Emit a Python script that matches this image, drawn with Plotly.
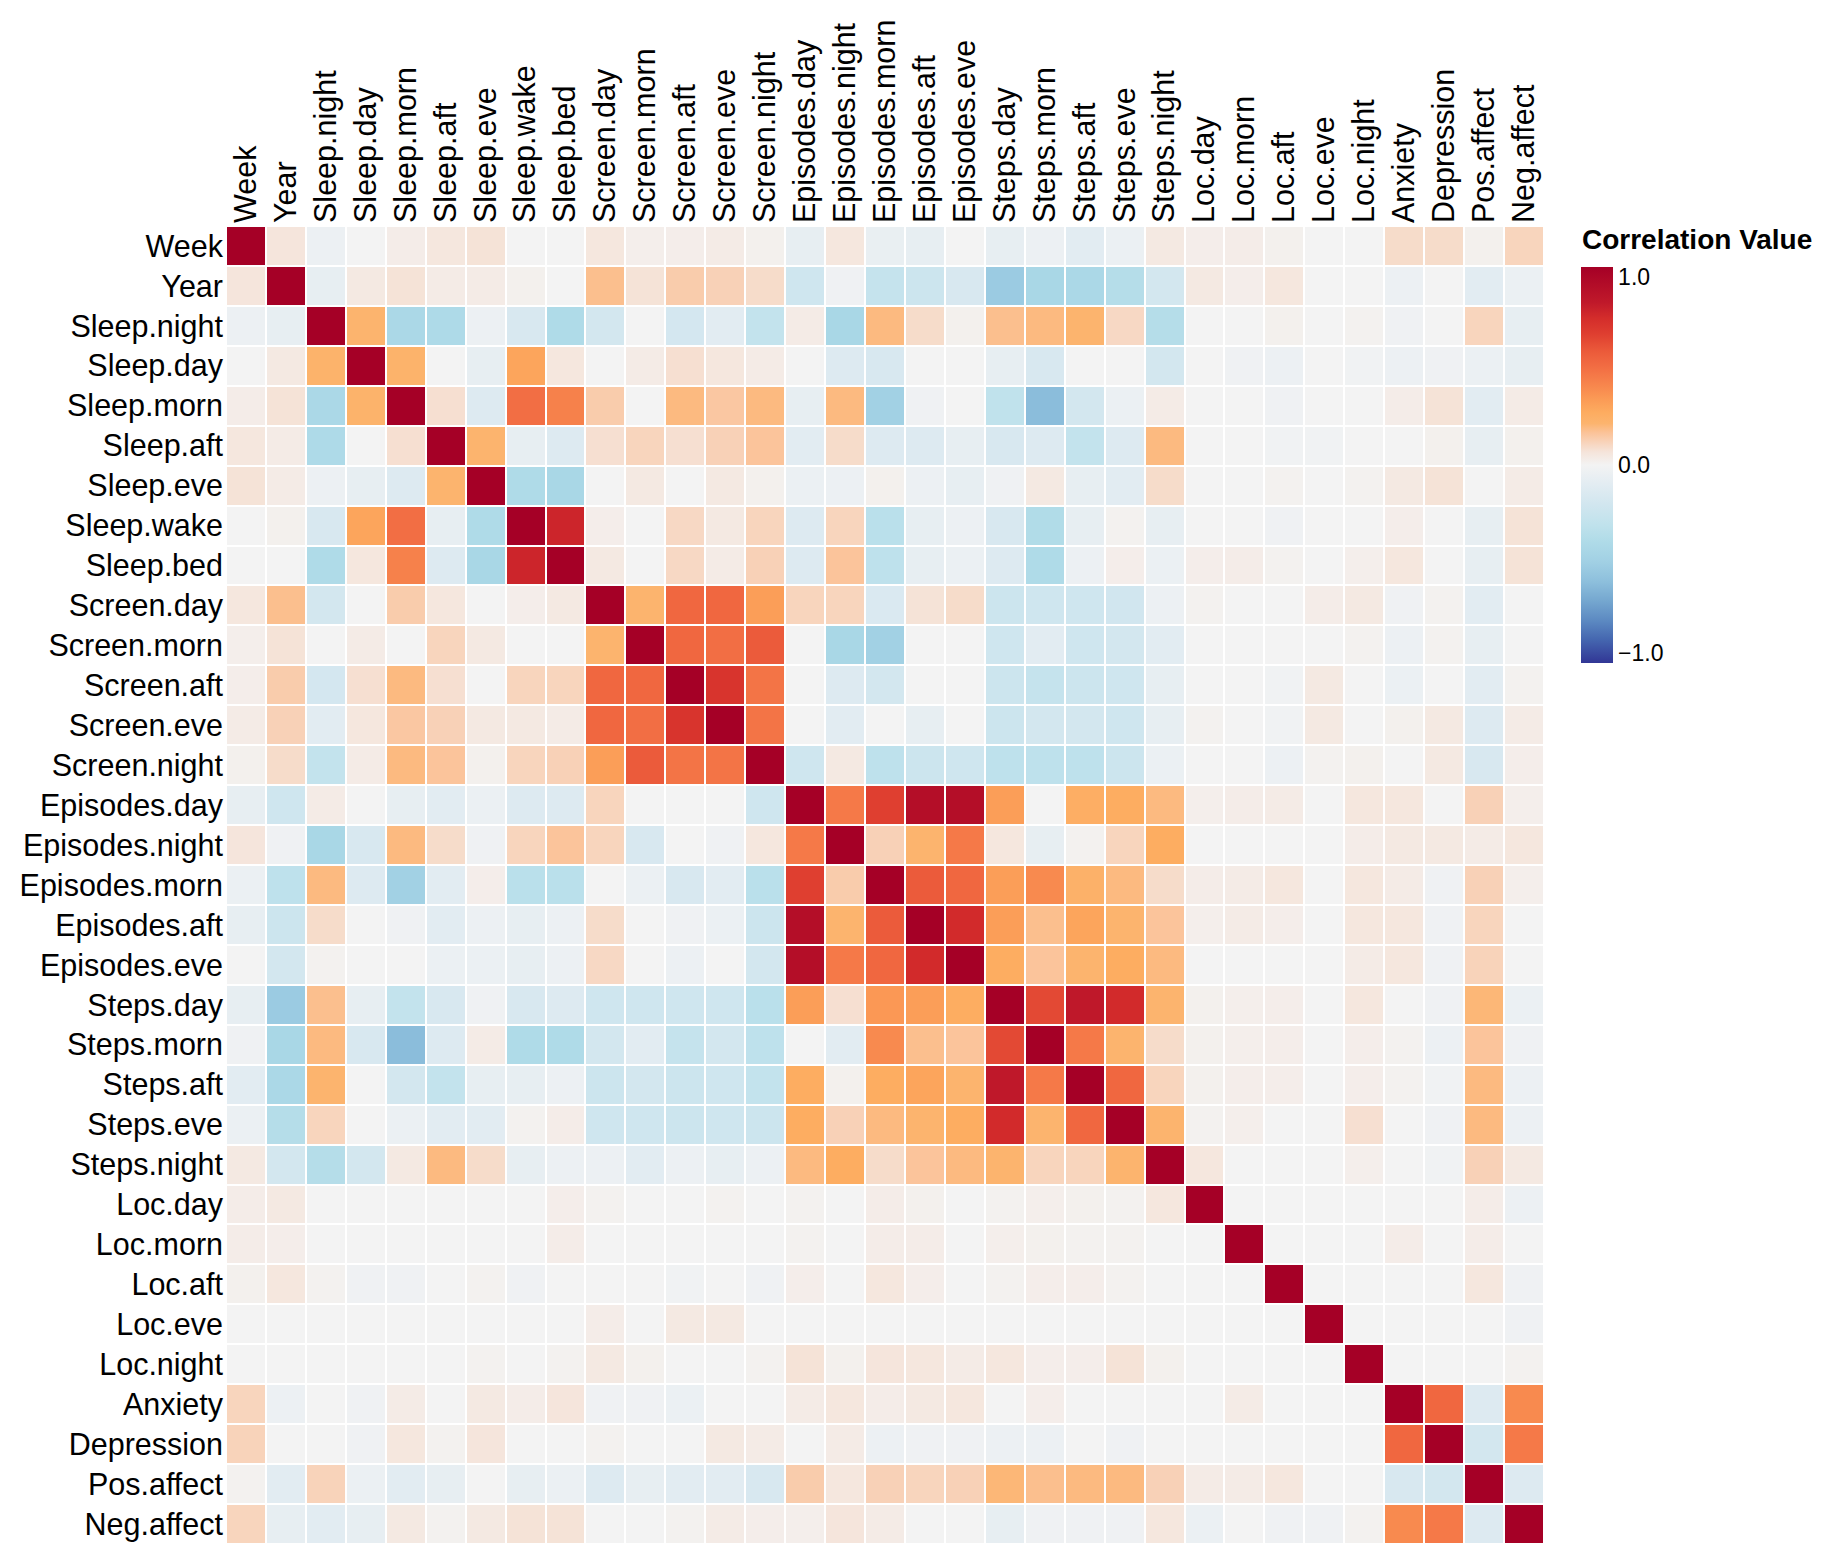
import plotly.graph_objects as go

labels = ["Week", "Year", "Sleep.night", "Sleep.day", "Sleep.morn", "Sleep.aft", "Sleep.eve",
          "Sleep.wake", "Sleep.bed", "Screen.day", "Screen.morn", "Screen.aft", "Screen.eve",
          "Screen.night", "Episodes.day", "Episodes.night", "Episodes.morn", "Episodes.aft",
          "Episodes.eve", "Steps.day", "Steps.morn", "Steps.aft", "Steps.eve", "Steps.night",
          "Loc.day", "Loc.morn", "Loc.aft", "Loc.eve", "Loc.night", "Anxiety", "Depression",
          "Pos.affect", "Neg.affect"]

r_week = [1, .06, -.04, 0, .03, .055, .07, 0, 0, .055, .02, .025, .035, .015, -.07, .055, -.06, -.07, 0, -.07, -.04, -.1, -.05, .045, .025, .03, .015, 0, 0, .09, .09, .015, .11]
r_year = [.06, 1, -.07, .045, .07, .035, .035, .015, 0, .175, .07, .135, .12, .09, -.21, -.025, -.27, -.23, -.16, -.52, -.43, -.42, -.36, -.19, .045, .025, .055, 0, 0, -.04, 0, -.1, -.05]
r_sleep_night = [-.04, -.07, 1, .21, -.42, -.4, -.04, -.16, -.39, -.19, 0, -.18, -.1, -.28, .035, -.43, .19, .09, .015, .175, .19, .21, .1, -.36, 0, 0, .015, 0, .01, -.025, 0, .11, -.07]
r_sleep_day = [0, .045, .22, 1, .22, 0, -.07, .29, .055, 0, .035, .08, .055, .035, 0, -.13, -.16, 0, 0, -.07, -.16, 0, 0, -.19, 0, -.025, -.04, 0, -.015, -.04, -.025, -.05, -.07]
r_sleep_morn = [.03, .07, -.42, .22, 1, .08, -.13, .49, .42, .135, 0, .19, .15, .19, -.07, .19, -.48, -.025, 0, -.3, -.6, -.19, -.05, .035, 0, 0, -.025, 0, 0, .03, .07, -.1, .035]
r_sleep_aft = [.055, .035, -.4, 0, .08, 1, .21, -.07, -.13, .08, .11, .08, .12, .16, -.1, .09, -.13, -.13, -.07, -.16, -.13, -.28, -.13, .19, 0, 0, -.015, -.015, 0, 0, .015, -.07, .015]
r_sleep_eve = [.07, .035, -.04, -.07, -.13, .21, 1, -.39, -.43, 0, .045, 0, .045, .015, -.05, -.04, .015, -.04, -.07, -.025, .045, -.07, -.1, .09, 0, 0, .01, 0, .01, .045, .07, 0, .035]
r_sleep_wake = [0, .015, -.16, .29, .49, -.07, -.39, 1, .77, .025, 0, .1, .045, .11, -.13, .11, -.33, -.07, -.04, -.16, -.38, -.07, .01, -.07, 0, 0, -.025, 0, 0, .025, 0, -.07, .07]
r_sleep_bed = [0, 0, -.39, .055, .42, -.13, -.43, .77, 1, .045, 0, .1, .035, .12, -.13, .16, -.31, -.07, -.05, -.13, -.39, -.04, .025, -.05, .025, .03, .01, 0, .02, .055, 0, -.07, .07]
r_screen_day = [.055, .175, -.19, 0, .135, .055, 0, .025, .045, 1, .21, .52, .52, .32, .11, .11, -.15, .07, .09, -.23, -.21, -.21, -.2, -.04, .01, 0, 0, .03, .045, -.025, .01, -.1, 0]
r_screen_morn = [.02, .07, 0, .035, 0, .11, .045, 0, 0, .21, 1, .52, .49, .57, 0, -.43, -.48, 0, 0, -.21, -.1, -.21, -.19, -.1, 0, 0, 0, 0, .01, -.04, .01, -.07, 0]
r_screen_aft = [.025, .135, -.18, .08, .19, .08, 0, .11, .11, .52, .52, 1, .71, .47, 0, -.13, -.19, 0, 0, -.23, -.27, -.23, -.21, -.07, 0, 0, -.015, .045, 0, -.05, 0, -.1, .01]
r_screen_eve = [.035, .12, -.1, .055, .15, .12, .045, .045, .035, .52, .49, .71, 1, .47, 0, -.1, 0, -.07, 0, -.23, -.19, -.19, -.21, -.07, .01, 0, -.015, .045, 0, .015, .045, -.13, .035]
r_screen_night = [.015, .09, -.28, .035, .19, .16, .015, .11, .12, .32, .57, .47, .47, 1, -.21, .045, -.31, -.23, -.21, -.31, -.31, -.31, -.23, -.05, 0, 0, -.04, .01, .015, 0, .045, -.16, .025]
r_episodes_day = [-.07, -.21, .035, 0, -.07, -.1, -.05, -.13, -.13, .11, 0, 0, 0, -.21, 1, .45, .66, .9, .9, .32, 0, .25, .26, .19, .02, .03, .035, 0, .055, .055, 0, .12, .02]
r_episodes_night = [.06, -.025, -.43, -.16, .19, .09, -.025, .11, .16, .11, -.16, 0, -.025, .055, .45, 1, .12, .21, .45, .055, -.07, .01, .11, .26, 0, 0, 0, 0, .03, .045, .045, .035, .055]
r_episodes_morn = [-.05, -.31, .19, -.13, -.48, -.1, .025, -.33, -.33, 0, -.05, -.16, -.1, -.33, .66, .135, 1, .57, .52, .32, .39, .23, .19, .09, .03, .035, .055, 0, .055, .035, -.025, .12, .02]
r_episodes_aft = [-.07, -.23, .09, 0, -.025, -.1, -.04, -.07, -.04, .09, 0, -.025, -.05, -.23, .9, .21, .57, 1, .75, .32, .175, .29, .21, .16, .02, .035, .025, 0, .055, .055, -.025, .11, 0]
r_episodes_eve = [0, -.19, .01, 0, 0, -.05, -.05, -.07, -.04, .1, 0, -.04, 0, -.19, .9, .45, .52, .75, 1, .26, .16, .21, .26, .19, 0, 0, 0, 0, .035, .055, -.025, .115, 0]
r_steps_day = [-.07, -.52, .175, -.07, -.28, -.16, -.025, -.16, -.13, -.21, -.21, -.21, -.21, -.33, .32, .08, .34, .32, .26, 1, .63, .83, .75, .21, .015, .02, .025, 0, .055, 0, -.025, .2, -.05]
r_steps_morn = [-.025, -.43, .19, -.16, -.6, -.13, .035, -.39, -.39, -.19, -.1, -.27, -.19, -.31, 0, -.1, .39, .175, .16, .63, 1, .45, .21, .09, .015, .02, .025, 0, .025, .01, -.04, .16, -.025]
r_steps_aft = [-.1, -.42, .21, 0, -.19, -.28, -.07, -.07, -.04, -.23, -.19, -.23, -.21, -.28, .26, .015, .26, .29, .21, .83, .45, 1, .52, .11, .015, .025, .025, 0, .025, .01, -.015, .19, -.04]
r_steps_eve = [-.05, -.36, .11, 0, -.05, -.1, -.1, .01, .03, -.21, -.21, -.23, -.21, -.23, .26, .12, .19, .21, .26, .75, .21, .52, 1, .21, .01, .02, 0, 0, .08, 0, -.025, .19, -.04]
r_steps_night = [.045, -.19, -.36, -.19, .045, .19, .09, -.07, -.04, -.04, -.1, -.04, -.07, -.04, .19, .26, .09, .16, .19, .21, .11, .11, .21, 1, .055, 0, 0, 0, .02, 0, -.015, .12, .045]
r_loc_day = [.03, .045, 0, 0, 0, 0, 0, 0, .025, .01, 0, 0, .01, 0, .01, 0, .03, .015, 0, .01, .02, .015, .01, .055, 1, 0, 0, 0, 0, 0, 0, .03, -.04]
r_loc_morn = [.03, .025, 0, 0, 0, 0, 0, 0, .03, 0, 0, 0, 0, 0, .01, 0, .03, .03, 0, .02, .015, .01, .01, 0, 0, 1, 0, 0, 0, .03, 0, .03, 0]
r_loc_aft = [.015, .055, .01, -.025, -.025, 0, .01, -.025, 0, 0, 0, -.015, 0, -.025, .025, 0, .055, .025, 0, .01, .025, .025, .01, 0, 0, 0, 1, 0, 0, 0, 0, .055, -.025]
r_loc_eve = [0, 0, 0, 0, 0, 0, 0, 0, 0, .03, 0, .045, .045, 0, 0, 0, 0, 0, 0, 0, 0, 0, 0, 0, 0, 0, 0, 1, 0, 0, 0, 0, -.025]
r_loc_night = [0, 0, 0, 0, 0, 0, .01, 0, .01, .045, .015, 0, 0, .01, .07, .015, .06, .055, .035, .055, .025, .025, .07, .015, 0, 0, 0, 0, 1, 0, 0, 0, .01]
r_anxiety = [.11, -.04, 0, -.025, .035, 0, .045, .03, .06, -.025, -.025, -.05, 0, 0, .035, .055, .03, .045, .055, 0, .025, 0, 0, 0, 0, .035, 0, 0, 0, 1, .52, -.13, .39]
r_depression = [.115, 0, 0, -.025, .055, .01, .06, 0, 0, .01, 0, 0, .045, .035, 0, .035, -.04, -.025, -.025, -.04, -.04, 0, -.025, 0, 0, 0, 0, 0, 0, .52, 1, -.19, .45]
r_pos_affect = [.01, -.1, .115, -.05, -.1, -.07, 0, -.07, -.05, -.13, -.07, -.1, -.1, -.16, .135, .055, .12, .11, .12, .2, .175, .19, .19, .12, .035, .035, .055, 0, 0, -.16, -.19, 1, -.13]
r_neg_affect = [.11, -.07, -.1, -.07, .045, .01, .045, .07, .07, 0, 0, .01, .035, .025, .02, .06, .035, 0, 0, -.07, -.025, -.025, -.025, .055, -.05, 0, -.025, -.025, .01, .39, .45, -.13, 1]

rows = [r_week, r_year, r_sleep_night, r_sleep_day, r_sleep_morn, r_sleep_aft, r_sleep_eve,
        r_sleep_wake, r_sleep_bed, r_screen_day, r_screen_morn, r_screen_aft, r_screen_eve,
        r_screen_night, r_episodes_day, r_episodes_night, r_episodes_morn, r_episodes_aft,
        r_episodes_eve, r_steps_day, r_steps_morn, r_steps_aft, r_steps_eve, r_steps_night,
        r_loc_day, r_loc_morn, r_loc_aft, r_loc_eve, r_loc_night, r_anxiety, r_depression,
        r_pos_affect, r_neg_affect]

legend_title = "Correlation Value"
legend_tick_vals = [-0.95, 0, 0.95]
legend_tick_text = ["\u22121.0", "0.0", "1.0"]

# colour stops (value -> colour), converted to colourscale positions over [-1, 1]
stop_vals = [-1, -0.88, -0.79, -0.69, -0.59, -0.49, -0.39, -0.3, -0.2, -0.1, 0,
             0.066, 0.115, 0.165, 0.21, 0.265, 0.33, 0.41, 0.495, 0.575, 0.66, 0.74, 0.82, 1]
stop_cols = ["#313695", "#4567b0", "#5b88c1", "#74a6cf", "#8dbfdc", "#a1d0e4", "#afdbe8",
             "#c0e2ec", "#d1e6ef", "#e2ecf2", "#f3f3f3",
             "#f5e4da", "#f8d3ba", "#fbc297", "#fcb46e", "#fdac60", "#fb9b56", "#f7844c",
             "#f26d43", "#eb5a3a", "#df3f30", "#d42d2b", "#c0192a", "#a50026"]
colorscale = [[(v + 1) / 2, c] for v, c in zip(stop_vals, stop_cols)]

FONT = "Liberation Sans, Arial, Helvetica, sans-serif"

# plot area (figure pixel coordinates)
L, T, SIZE = 218, 218, 1318
W, H = 1834, 1566
BOTTOM = T + SIZE

fig = go.Figure(go.Heatmap(
    z=rows, x=labels, y=labels,
    zmin=-1, zmax=1, colorscale=colorscale,
    xgap=2, ygap=2,
    hovertemplate="%{y} / %{x}: %{z:.2f}<extra></extra>",
    colorbar=dict(
        thickness=32, thicknessmode="pixels",
        len=396, lenmode="pixels",
        x=(1573 - L) / SIZE, xanchor="left", xpad=0,
        y=(BOTTOM - 259) / SIZE, yanchor="top", ypad=0,
        tickvals=legend_tick_vals, ticktext=legend_tick_text,
        tickfont=dict(size=23, color="black", family=FONT),
        ticks="", outlinewidth=0,
    ),
))

fig.add_annotation(
    text="<b>" + legend_title + "</b>", xref="paper", yref="paper",
    x=(1572 - L) / SIZE, y=(BOTTOM - 231) / SIZE, xanchor="left", yanchor="middle",
    showarrow=False, font=dict(size=28, color="black", family=FONT),
)

fig.update_layout(
    width=W, height=H,
    margin=dict(l=L, r=W - L - SIZE, t=T, b=H - T - SIZE),
    paper_bgcolor="white", plot_bgcolor="white",
    font=dict(family=FONT, color="black"),
    xaxis=dict(side="top", tickangle=-90, showgrid=False, zeroline=False, showline=False,
               ticks="", tickfont=dict(size=30.5, color="black"), ticklabelstandoff=2,
               categoryorder="array", categoryarray=labels),
    yaxis=dict(autorange="reversed", showgrid=False, zeroline=False, showline=False,
               ticks="", tickfont=dict(size=30.5, color="black"), ticklabelstandoff=2,
               categoryorder="array", categoryarray=labels),
)

fig.write_html("out.html")
